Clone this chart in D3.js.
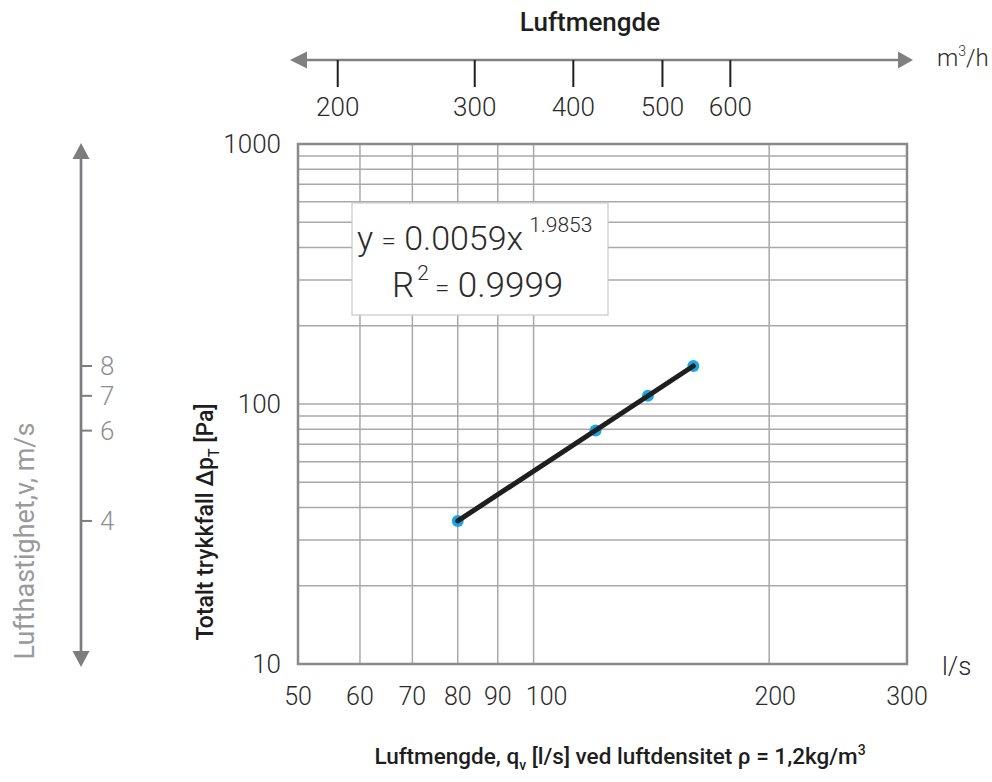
<!DOCTYPE html>
<html>
<head>
<meta charset="utf-8">
<script src="https://cdn.jsdelivr.net/npm/d3@7"></script>
<style>
  body { margin: 0; background: #fff; }
  svg { display: block; font-family: Roboto, "Open Sans", sans-serif; }
  .lbl { font-weight: 300; fill: #2b2b2b; }
  .ttl { font-weight: 500; fill: #1e1e1e; }
</style>
</head>
<body>
<div id="chart"></div>
<script>
// data
const flow = [80, 120, 140, 160]            // l/s
const pressure = [35.5, 79, 107.5, 140]     // Pa
const velocity = [4, 6, 7, 8]               // m/s at the same points
const xTicks = [50, 60, 70, 80, 90, 100, 200, 300]
const xGrid = [60, 70, 80, 90, 100, 200]
const yTicks = [10, 100, 1000]
const yGrid = [20, 30, 40, 50, 60, 70, 80, 90, 100, 200, 300, 400, 500, 600, 700, 800, 900]
const topLabels = [200, 300, 400, 500, 600]          // m3/h
const topAt = [56.2, 84.1, 112.4, 146.1, 178.4]       // where they sit on the l/s axis

const width = 992
const height = 782
const plot = { left: 298, right: 907, top: 144, bottom: 664 }

const svg = d3.select('#chart')
  .append('svg')
  .attr('width', width)
  .attr('height', height)

const x = d3.scaleLog().domain([50, 300]).range([plot.left, plot.right])
const y = d3.scaleLog().domain([10, 1000]).range([plot.bottom, plot.top])

// grid
svg.append('g').selectAll('line')
  .data(xGrid)
  .enter().append('line')
  .attr('x1', d => x(d)).attr('x2', d => x(d))
  .attr('y1', plot.top).attr('y2', plot.bottom)
  .attr('stroke', '#a9a9ab').attr('stroke-width', 1.5)

svg.append('g').selectAll('line')
  .data(yGrid)
  .enter().append('line')
  .attr('x1', plot.left).attr('x2', plot.right)
  .attr('y1', d => y(d)).attr('y2', d => y(d))
  .attr('stroke', '#a9a9ab').attr('stroke-width', 1.5)

svg.append('rect')
  .attr('x', plot.left).attr('y', plot.top)
  .attr('width', plot.right - plot.left).attr('height', plot.bottom - plot.top)
  .attr('fill', 'none').attr('stroke', '#8a8a8c').attr('stroke-width', 2.5)

// bottom axis labels (100 and 200 sit a little right of their lines in the original)
svg.append('g').selectAll('text')
  .data(xTicks)
  .enter().append('text')
  .attr('class', 'lbl')
  .attr('x', d => x(d)).attr('y', plot.bottom + 41)
  .attr('dx', d => d === 100 ? 13 : d === 200 ? 6 : 0)
  .attr('text-anchor', 'middle')
  .attr('font-size', 25)
  .text(d => d)

svg.append('text').attr('class', 'lbl')
  .attr('x', plot.right + 35).attr('y', plot.bottom + 11)
  .attr('font-size', 26)
  .text('l/s')

// left axis labels
svg.append('g').selectAll('text')
  .data(yTicks)
  .enter().append('text')
  .attr('class', 'lbl')
  .attr('x', plot.left - 17).attr('y', d => y(d) + 9)
  .attr('text-anchor', 'end')
  .attr('font-size', 26)
  .text(d => d)

// axis titles
svg.append('text').attr('class', 'ttl')
  .attr('transform', `translate(213,${(plot.top + plot.bottom) / 2 + 118}) rotate(-90)`)
  .attr('font-size', 23)
  .attr('text-anchor', 'middle')
  .call(t => {
    t.append('tspan').text('Totalt trykkfall Δp')
    t.append('tspan').attr('font-size', 14).attr('dy', 6).text('T')
    t.append('tspan').attr('dy', -6).text(' [Pa]')
  })

svg.append('text').attr('class', 'ttl')
  .attr('x', 620).attr('y', 764)
  .attr('font-size', 22.5)
  .attr('text-anchor', 'middle')
  .call(t => {
    t.append('tspan').text('Luftmengde, q')
    t.append('tspan').attr('font-size', 14).attr('dy', 6).text('v')
    t.append('tspan').attr('dy', -6).text(' [l/s] ved luftdensitet ρ = 1,2kg/m')
    t.append('tspan').attr('font-size', 14).attr('dy', -9).text('3')
  })

// top axis (m3/h)
const topY = 60
const arrowGrey = '#808083'
svg.append('line')
  .attr('x1', x.range()[0] - 4).attr('x2', x.range()[1] + 2)
  .attr('y1', topY).attr('y2', topY)
  .attr('stroke', arrowGrey).attr('stroke-width', 2.7)
svg.append('path')
  .attr('d', d3.line()([[x.range()[0] - 8, topY], [x.range()[0] + 9, topY - 8.5], [x.range()[0] + 9, topY + 8.5]]) + 'Z')
  .attr('fill', arrowGrey)
svg.append('path')
  .attr('d', d3.line()([[x.range()[1] + 6, topY], [x.range()[1] - 9, topY - 8.5], [x.range()[1] - 9, topY + 8.5]]) + 'Z')
  .attr('fill', arrowGrey)

const topG = svg.append('g').selectAll('g')
  .data(topLabels)
  .enter().append('g')
  .attr('transform', (d, i) => `translate(${x(topAt[i])},0)`)
topG.append('line')
  .attr('y1', topY).attr('y2', topY + 27)
  .attr('stroke', '#1e1e1e').attr('stroke-width', 2)
topG.append('text').attr('class', 'lbl')
  .attr('y', topY + 56)
  .attr('text-anchor', 'middle')
  .attr('font-size', 26)
  .text(d => d)

svg.append('text').attr('class', 'ttl')
  .attr('x', 590).attr('y', 31)
  .attr('font-size', 26)
  .attr('text-anchor', 'middle')
  .text('Luftmengde')

svg.append('text').attr('class', 'lbl')
  .attr('x', x.range()[1] + 30).attr('y', topY + 6)
  .attr('font-size', 24)
  .call(t => {
    t.append('tspan').text('m')
    t.append('tspan').attr('font-size', 14).attr('dy', -10).text('3')
    t.append('tspan').attr('dy', 10).text('/h')
  })

// velocity axis (m/s), ticks at the pressure of each measured point
const vX = 81
const vGrey = '#7d7d80'
svg.append('line')
  .attr('x1', vX).attr('x2', vX)
  .attr('y1', plot.top + 4).attr('y2', plot.bottom - 2)
  .attr('stroke', vGrey).attr('stroke-width', 2.7)
svg.append('path')
  .attr('d', d3.line()([[vX, plot.top - 1], [vX - 8.5, plot.top + 15], [vX + 8.5, plot.top + 15]]) + 'Z')
  .attr('fill', vGrey)
svg.append('path')
  .attr('d', d3.line()([[vX, plot.bottom + 3], [vX - 8.5, plot.bottom - 13], [vX + 8.5, plot.bottom - 13]]) + 'Z')
  .attr('fill', vGrey)

const vG = svg.append('g').selectAll('g')
  .data(velocity)
  .enter().append('g')
  .attr('transform', (d, i) => `translate(0,${y(pressure[i])})`)
vG.append('line')
  .attr('x1', vX).attr('x2', vX + 11)
  .attr('stroke', vGrey).attr('stroke-width', 2)
vG.append('text')
  .attr('x', vX + 19).attr('y', 9)
  .attr('font-size', 26).attr('font-weight', 300)
  .attr('fill', '#8f8f92')
  .text(d => d)

svg.append('text')
  .attr('transform', `translate(34,541) rotate(-90)`)
  .attr('font-size', 27)
  .attr('fill', '#9a9a9d')
  .attr('text-anchor', 'middle')
  .text('Lufthastighet,v, m/s')

// trend line and points
const trend = [[flow[0], pressure[0]], [flow[flow.length - 1], pressure[pressure.length - 1]]]
svg.append('g').selectAll('circle')
  .data(flow)
  .enter().append('circle')
  .attr('cx', d => x(d))
  .attr('cy', (d, i) => y(pressure[i]))
  .attr('r', 6)
  .attr('fill', '#1aa6e4')
svg.append('path')
  .datum(trend)
  .attr('d', d3.line().x(d => x(d[0])).y(d => y(d[1])))
  .attr('stroke', '#1f1f1f').attr('stroke-width', 5)
  .attr('stroke-linecap', 'round').attr('fill', 'none')

// equation box
const box = svg.append('g').attr('transform', 'translate(352,203)')
box.append('rect')
  .attr('width', 256).attr('height', 112)
  .attr('fill', '#fff').attr('stroke', '#c8c8ca').attr('stroke-width', 1.2)
box.append('text').attr('class', 'lbl')
  .attr('x', 5).attr('y', 47)
  .attr('font-size', 34).attr('fill', '#3a3a3a')
  .call(t => {
    t.append('tspan').text('y ')
    t.append('tspan').attr('font-size', 26).text('=')
    t.append('tspan').text(' 0.0059x')
    t.append('tspan').attr('font-size', 21).attr('dy', -18).attr('dx', 6).text('1.9853')
  })
box.append('text').attr('class', 'lbl')
  .attr('x', 40).attr('y', 94)
  .attr('font-size', 35).attr('fill', '#3a3a3a')
  .call(t => {
    t.append('tspan').text('R')
    t.append('tspan').attr('font-size', 21).attr('dy', -17).attr('dx', 3).text('2')
    t.append('tspan').attr('font-size', 26).attr('dy', 17).attr('dx', 6).text('=')
    t.append('tspan').text(' 0.9999')
  })
</script>
</body>
</html>
